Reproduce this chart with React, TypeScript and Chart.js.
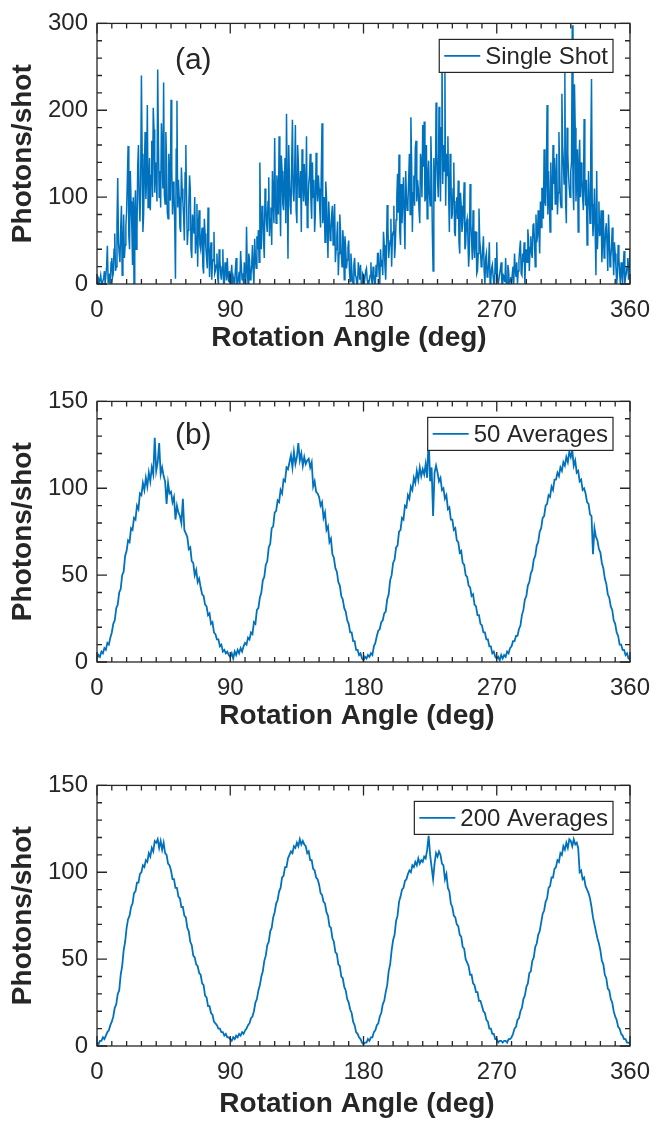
import React, { useEffect, useRef } from "react";
import { Chart, registerables } from "chart.js";

Chart.register(...registerables);

// ---------------- data ----------------
const X_MIN = 0;
const X_MAX = 360;
const X_STEP = 90;
const X_MINOR = 10;
const ANGLES: number[] = Array.from({ length: 361 }, (_, i) => i);

// single shot, samples at whole degrees 0..360
const SINGLE_SHOT: number[] = [
  0, 6, 0, 2, 0, 15, 0, 44, 4, 0,
  30, 12, 58, 20, 122, 35, 64, 10, 80, 45,
  84, 159, 40, 95, 22, 0, 108, 60, 160, 72,
  240, 60, 130, 98, 206, 110, 85, 165, 203, 105,
  128, 247, 100, 88, 155, 232, 92, 140, 75, 118,
  212, 80, 105, 6, 211, 120, 65, 134, 95, 50,
  160, 45, 88, 110, 30, 72, 100, 55, 20, 85,
  40, 65, 12, 58, 30, 88, 8, 48, 25, 60,
  15, 35, 0, 28, 5, 40, 0, 18, 30, 2,
  0, 22, 8, 0, 30, 0, 14, 38, 5, 0,
  12, 66, 0, 28, 10, 45, 0, 30, 55, 62,
  140, 40, 85, 30, 95, 60, 123, 75, 45, 100,
  168, 70, 110, 170, 55, 130, 85, 145, 196, 29,
  120, 80, 189, 95, 183, 70, 140, 110, 60, 125,
  138, 90, 65, 115, 150, 75, 100, 60, 151, 95,
  110, 65, 185, 80, 48, 100, 30, 75, 58, 90,
  70, 25, 55, 10, 80, 35, 62, 5, 40, 28,
  50, 3, 20, 0, 30, 8, 0, 15, 22, 0,
  10, 0, 18, 0, 5, 25, 0, 12, 0, 8,
  35, 0, 20, 10, 45, 5, 91, 30, 50, 20,
  60, 30, 74, 127, 149, 45, 70, 123, 40, 100,
  93, 150, 192, 60, 125, 157, 95, 110, 70, 140,
  183, 187, 100, 75, 142, 90, 130, 15, 110, 209,
  120, 204, 95, 275, 160, 243, 150, 170, 60, 130,
  80, 140, 55, 100, 119, 35, 90, 70, 117, 45,
  75, 20, 115, 50, 85, 30, 60, 15, 87, 40,
  25, 55, 0, 35, 10, 48, 5, 22, 0, 30,
  48, 0, 12, 25, 0, 8, 30, 0, 15, 5,
  0, 20, 35, 8, 0, 28, 50, 10, 25, 0,
  40, 63, 15, 55, 30, 70, 20, 48, 85, 35,
  65, 110, 155, 90, 206, 130, 60, 100, 160, 145,
  120, 80, 175, 95, 219, 140, 243, 70, 150, 110,
  130, 298, 85, 180, 120, 60, 166, 140, 100, 190,
  90, 45, 130, 70, 236, 55, 110, 10, 40, 95,
  60, 25, 85, 40, 70, 15, 55, 30, 65, 10,
  35, 0, 45, 12, 25, 0, 38, 8, 20, 5,
  40,
];

// single shot, samples at half degrees 0.5..359.5
const SINGLE_SHOT_HALF: number[] = [
  3, 0, 10, 0, 7, 0, 20, 2, 12, 25,
  8, 40, 15, 70, 48, 25, 90, 42, 30, 66,
  120, 55, 130, 68, 100, 85, 40, 135, 98, 115,
  150, 80, 175, 120, 88, 145, 125, 100, 178, 140,
  95, 160, 130, 185, 110, 102, 175, 82, 150, 96,
  135, 118, 70, 155, 88, 100, 60, 110, 78, 128,
  95, 62, 125, 40, 80, 58, 35, 92, 70, 45,
  55, 20, 75, 42, 18, 50, 35, 5, 28, 12,
  22, 8, 40, 12, 20, 0, 25, 4, 10, 15,
  10, 0, 3, 18, 0, 6, 0, 20, 12, 25,
  0, 18, 35, 5, 22, 15, 52, 18, 40, 25,
  65, 90, 50, 110, 70, 95, 55, 88, 130, 70,
  95, 125, 80, 102, 148, 92, 115, 70, 108, 160,
  90, 140, 105, 128, 85, 160, 100, 130, 155, 95,
  108, 170, 88, 125, 95, 140, 120, 82, 110, 125,
  85, 130, 70, 100, 118, 62, 95, 50, 80, 45,
  92, 40, 72, 35, 60, 20, 48, 55, 18, 42,
  15, 35, 5, 22, 10, 0, 25, 5, 0, 12,
  0, 15, 5, 0, 10, 3, 20, 0, 22, 35,
  12, 40, 28, 60, 20, 38, 65, 42, 75, 55,
  90, 45, 100, 82, 60, 115, 95, 78, 130, 85,
  120, 80, 140, 105, 90, 165, 120, 85, 150, 100,
  135, 95, 160, 125, 105, 170, 60, 145, 95, 150,
  100, 140, 180, 115, 130, 90, 125, 105, 150, 75,
  110, 60, 95, 75, 48, 105, 60, 88, 40, 70,
  55, 38, 70, 28, 45, 60, 12, 35, 50, 20,
  40, 15, 30, 8, 25, 0, 18, 10, 0, 12,
  5, 0, 18, 0, 10, 2, 0, 22, 0, 8,
  12, 0, 18, 25, 15, 40, 12, 35, 48, 30,
  25, 50, 42, 35, 68, 48, 80, 55, 62, 95,
  110, 75, 95, 125, 80, 100, 140, 85, 115, 92,
  150, 105, 130, 88, 160, 115, 95, 180, 125, 100,
  140, 110, 230, 95, 155, 135, 100, 120, 85, 115,
  120, 80, 100, 150, 92, 75, 60, 130, 68, 55,
  85, 50, 30, 62, 45, 80, 20, 42, 35, 48,
  20, 10, 30, 0, 15, 22, 0, 12, 30, 18,
];

const AVG_50: number[] = [
  2, 4, 3, 6, 5, 8, 7, 11, 10, 14,
  17, 22, 24, 31, 33, 40, 42, 50, 52, 61,
  64, 70, 69, 77, 76, 83, 82, 90, 88, 97,
  96, 103, 99, 106, 101, 109, 104, 112, 108, 129,
  110, 115, 126, 108, 112, 107, 104, 91, 103, 97,
  98, 92, 95, 82, 90, 86, 84, 80, 94, 76,
  74, 72, 65, 66, 58, 57, 50, 53, 46, 48,
  43, 39, 38, 33, 32, 27, 28, 22, 23, 17,
  16, 13, 13, 9, 10, 6, 7, 5, 6, 4,
  3, 5, 2, 6, 4, 7, 5, 8, 6, 9,
  11, 10, 14, 13, 17, 16, 23, 22, 30, 31,
  37, 40, 47, 49, 56, 58, 66, 68, 77, 78,
  86, 87, 93, 92, 99, 97, 105, 104, 112, 111,
  115, 119, 112, 121, 114, 118, 126, 116, 120, 113,
  118, 114, 116, 117, 112, 115, 101, 104, 98, 97,
  95, 90, 92, 83, 86, 76, 78, 69, 71, 62,
  60, 54, 52, 46, 44, 38, 36, 31, 29, 24,
  22, 17, 17, 12, 12, 7, 7, 4, 5, 2,
  1, 3, 2, 4, 3, 5, 4, 9, 11, 15,
  18, 19, 23, 24, 28, 29, 36, 39, 47, 50,
  57, 59, 66, 67, 75, 76, 83, 82, 90, 89,
  96, 94, 101, 99, 106, 103, 110, 105, 112, 107,
  111, 108, 114, 106, 130, 104, 112, 84, 109, 113,
  109, 104, 106, 99, 100, 94, 96, 88, 89, 82,
  82, 76, 77, 70, 69, 63, 64, 57, 56, 50,
  49, 44, 43, 38, 39, 33, 32, 27, 27, 22,
  21, 17, 17, 13, 13, 9, 9, 5, 6, 3,
  2, 3, 1, 4, 2, 4, 3, 6, 5, 8,
  9, 12, 12, 15, 15, 19, 21, 27, 30, 36,
  38, 44, 46, 51, 53, 59, 61, 67, 69, 75,
  77, 83, 84, 90, 91, 96, 95, 101, 99, 105,
  105, 109, 107, 112, 110, 115, 113, 118, 115, 121,
  118, 122, 113, 116, 109, 110, 104, 105, 99, 100,
  97, 92, 91, 85, 84, 62, 77, 72, 70, 65,
  63, 57, 54, 48, 45, 39, 37, 32, 30, 24,
  22, 17, 15, 10, 10, 7, 7, 4, 5, 2,
  2,
];

const AVG_200: number[] = [
  2, 1, 3, 3, 5, 4, 6, 8, 9, 12,
  14, 17, 22, 24, 30, 32, 41, 46, 55, 60,
  68, 73, 75, 80, 82, 88, 89, 94, 94, 99,
  100, 104, 103, 107, 106, 111, 109, 114, 112, 118,
  117, 119, 114, 118, 113, 117, 111, 110, 105, 104,
  101, 96, 96, 91, 91, 86, 85, 80, 80, 75,
  74, 68, 66, 60, 58, 52, 51, 47, 46, 42,
  41, 36, 35, 29, 28, 23, 23, 19, 18, 14,
  13, 12, 10, 10, 8, 8, 6, 7, 5, 5,
  4, 3, 5, 4, 6, 5, 7, 6, 8, 7,
  9, 10, 12, 13, 16, 17, 20, 25, 27, 32,
  35, 40, 43, 49, 52, 58, 60, 66, 68, 74,
  77, 82, 84, 89, 91, 97, 98, 103, 103, 108,
  110, 112, 111, 115, 114, 117, 115, 119, 116, 118,
  116, 115, 111, 112, 107, 107, 102, 101, 97, 96,
  93, 88, 87, 83, 82, 77, 75, 69, 68, 62,
  60, 54, 53, 47, 46, 40, 39, 34, 32, 27,
  25, 21, 19, 14, 12, 8, 7, 5, 4, 2,
  1, 2, 2, 4, 3, 5, 5, 8, 9, 12,
  13, 17, 19, 24, 26, 31, 35, 43, 47, 55,
  61, 64, 72, 75, 83, 86, 90, 91, 95, 96,
  99, 101, 100, 104, 103, 106, 104, 108, 105, 107,
  106, 109, 108, 113, 121, 110, 103, 96, 105, 111,
  109, 112, 110, 105, 104, 96, 99, 91, 89, 82,
  80, 75, 74, 70, 69, 64, 63, 57, 56, 50,
  48, 46, 41, 41, 36, 35, 31, 31, 26, 26,
  23, 20, 19, 15, 14, 10, 10, 7, 7, 4,
  4, 2, 3, 3, 2, 3, 3, 2, 4, 4,
  5, 7, 10, 11, 15, 16, 20, 22, 27, 29,
  34, 36, 42, 43, 49, 51, 57, 59, 64, 66,
  71, 76, 78, 83, 85, 91, 92, 97, 97, 102,
  103, 107, 106, 111, 110, 115, 113, 117, 114, 119,
  118, 115, 119, 116, 117, 114, 100, 101, 96, 97,
  92, 90, 88, 85, 80, 74, 70, 66, 62, 59,
  55, 49, 47, 41, 39, 33, 32, 27, 25, 20,
  17, 15, 11, 10, 7, 6, 4, 4, 2, 2,
  1,
];

const X_TITLE = "Rotation Angle (deg)";
const Y_TITLE = "Photons/shot";

type Pt = { x: number; y: number };

function wholeDegreePoints(values: number[]): Pt[] {
  return values.map((v, i) => ({ x: ANGLES[i], y: v }));
}

function singleShotPoints(): Pt[] {
  const pts: Pt[] = [];
  SINGLE_SHOT.forEach((v, i) => {
    pts.push({ x: ANGLES[i], y: v });
    if (i < SINGLE_SHOT_HALF.length) pts.push({ x: ANGLES[i] + 0.5, y: SINGLE_SHOT_HALF[i] });
  });
  return pts;
}

// ---------------- styling ----------------
const LINE_COLOR = "#0072BD";
const AXIS_COLOR = "#262626";
const FONT = '"Liberation Sans", Arial, Helvetica, sans-serif';
const CANVAS_W = 667;
const CANVAS_H = 375;

const axesDecor = {
  id: "axesDecor",
  afterDraw(chart: any, _args: any, opts: any) {
    const { ctx, chartArea } = chart;
    const { left, right, top, bottom } = chartArea;
    const xs = chart.scales.x;
    const ys = chart.scales.y;
    ctx.save();
    ctx.strokeStyle = AXIS_COLOR;
    ctx.lineWidth = 1.3;
    ctx.beginPath();
    for (let v = xs.min; v <= xs.max + 1e-6; v += opts.xMinor) {
      const p = xs.getPixelForValue(v);
      const len = Math.abs(v % opts.xMajor) < 1e-6 ? 10 : 5;
      ctx.moveTo(p, bottom);
      ctx.lineTo(p, bottom - len);
      ctx.moveTo(p, top);
      ctx.lineTo(p, top + len);
    }
    for (let v = ys.min; v <= ys.max + 1e-6; v += opts.yMinor) {
      const p = ys.getPixelForValue(v);
      const len = Math.abs(v % opts.yMajor) < 1e-6 ? 10 : 5;
      ctx.moveTo(left, p);
      ctx.lineTo(left + len, p);
      ctx.moveTo(right, p);
      ctx.lineTo(right - len, p);
    }
    ctx.stroke();
    ctx.strokeRect(left, top, right - left, bottom - top);

    // x-axis title (slightly left of the axes centre, as in the reference)
    ctx.fillStyle = AXIS_COLOR;
    ctx.font = `bold 28px ${FONT}`;
    ctx.textAlign = "center";
    ctx.textBaseline = "middle";
    ctx.fillText(opts.xTitle, opts.xTitleX, bottom + opts.titleGap);

    // legend box (top-right, inside the axes)
    ctx.font = `24px ${FONT}`;
    const tw = ctx.measureText(opts.legend).width;
    const boxRight = right - 17;
    const boxTop = top + 16;
    const boxH = 33;
    const boxW = 46 + tw + 5;
    const boxLeft = boxRight - boxW;
    ctx.fillStyle = "#ffffff";
    ctx.fillRect(boxLeft, boxTop, boxW, boxH);
    ctx.lineWidth = 1.2;
    ctx.strokeStyle = AXIS_COLOR;
    ctx.strokeRect(boxLeft, boxTop, boxW, boxH);
    ctx.strokeStyle = LINE_COLOR;
    ctx.lineWidth = 1.8;
    ctx.beginPath();
    ctx.moveTo(boxLeft + 5, boxTop + boxH / 2);
    ctx.lineTo(boxLeft + 41, boxTop + boxH / 2);
    ctx.stroke();
    ctx.fillStyle = AXIS_COLOR;
    ctx.textAlign = "left";
    ctx.textBaseline = "middle";
    ctx.fillText(opts.legend, boxLeft + 46, boxTop + boxH / 2 + 1);

    // panel tag
    if (opts.tag) {
      ctx.font = `30px ${FONT}`;
      ctx.textAlign = "center";
      ctx.textBaseline = "middle";
      ctx.fillText(opts.tag, xs.getPixelForValue(opts.tagX), ys.getPixelForValue(opts.tagY));
    }
    ctx.restore();
  },
};

type PanelProps = {
  points: Pt[];
  lineWidth: number;
  yMax: number;
  yStep: number;
  yMinor: number;
  legend: string;
  tag?: string;
  tagY?: number;
  top: number;
  titleGap: number;
  titleX: number;
};

function Panel(props: PanelProps) {
  const ref = useRef<HTMLCanvasElement>(null);
  useEffect(() => {
    if (!ref.current) return;
    const { points, lineWidth, yMax, yStep, yMinor, legend, tag, tagY, titleGap, titleX } = props;
    const plotTop = 18;
    const plotH = 266;
    const xAxisH = CANVAS_H - plotTop - plotH;
    const titleLH = 28 * 1.2;
    const chart = new Chart(ref.current, {
      type: "line",
      data: {
        datasets: [
          {
            data: points,
            borderColor: LINE_COLOR,
            borderWidth: lineWidth,
            pointRadius: 0,
            tension: 0,
            fill: false,
          },
        ],
      },
      options: {
        responsive: false,
        maintainAspectRatio: false,
        animation: false,
        devicePixelRatio: 1,
        events: [],
        layout: { padding: { left: 0, top: plotTop, right: CANVAS_W - 630, bottom: 0 } },
        plugins: {
          legend: { display: false },
          tooltip: { enabled: false },
          axesDecor: {
            xMinor: X_MINOR,
            xMajor: X_STEP,
            yMinor,
            yMajor: yStep,
            legend,
            tag,
            tagX: 65,
            tagY,
            xTitle: X_TITLE,
            xTitleX: titleX,
            titleGap,
          },
        } as any,
        scales: {
          x: {
            type: "linear",
            min: X_MIN,
            max: X_MAX,
            grid: { display: false, drawTicks: false },
            border: { display: false },
            ticks: {
              stepSize: X_STEP,
              padding: 12,
              maxRotation: 0,
              autoSkip: false,
              color: AXIS_COLOR,
              font: { size: 24, family: FONT, lineHeight: 1.2 },
            },
            title: { display: false },
            afterFit: (s: any) => {
              s.height = xAxisH;
            },
          },
          y: {
            type: "linear",
            min: 0,
            max: yMax,
            grid: { display: false, drawTicks: false },
            border: { display: false },
            ticks: {
              stepSize: yStep,
              padding: 9,
              color: AXIS_COLOR,
              font: { size: 24, family: FONT, lineHeight: 1.2 },
            },
            title: {
              display: true,
              text: Y_TITLE,
              color: AXIS_COLOR,
              font: { size: 28, weight: "bold", family: FONT, lineHeight: 1.2 },
              padding: { top: 23 - titleLH / 2, bottom: 0 },
            },
            afterFit: (s: any) => {
              s.width = 97;
            },
          },
        },
      } as any,
      plugins: [axesDecor as any],
    });
    return () => chart.destroy();
  }, []);
  return (
    <canvas
      ref={ref}
      width={CANVAS_W}
      height={CANVAS_H}
      style={{ position: "absolute", left: 0, top: props.top, width: CANVAS_W, height: CANVAS_H }}
    />
  );
}

export default function App() {
  return (
    <div
      style={{
        position: "absolute",
        left: 0,
        top: 0,
        width: CANVAS_W,
        height: 1121,
        overflow: "hidden",
        background: "#ffffff",
      }}
    >
      <Panel points={wholeDegreePoints(AVG_200)} lineWidth={1.8} yMax={150} yStep={50} yMinor={10} legend="200 Averages" top={762} titleGap={58} titleX={357} />
      <Panel points={wholeDegreePoints(AVG_50)} lineWidth={1.8} yMax={150} yStep={50} yMinor={10} legend="50 Averages" tag="(b)" tagY={130} top={378} titleGap={54} titleX={357} />
      <Panel points={singleShotPoints()} lineWidth={1.5} yMax={300} yStep={100} yMinor={20} legend="Single Shot" tag="(a)" tagY={257} top={0} titleGap={54} titleX={349} />
    </div>
  );
}
